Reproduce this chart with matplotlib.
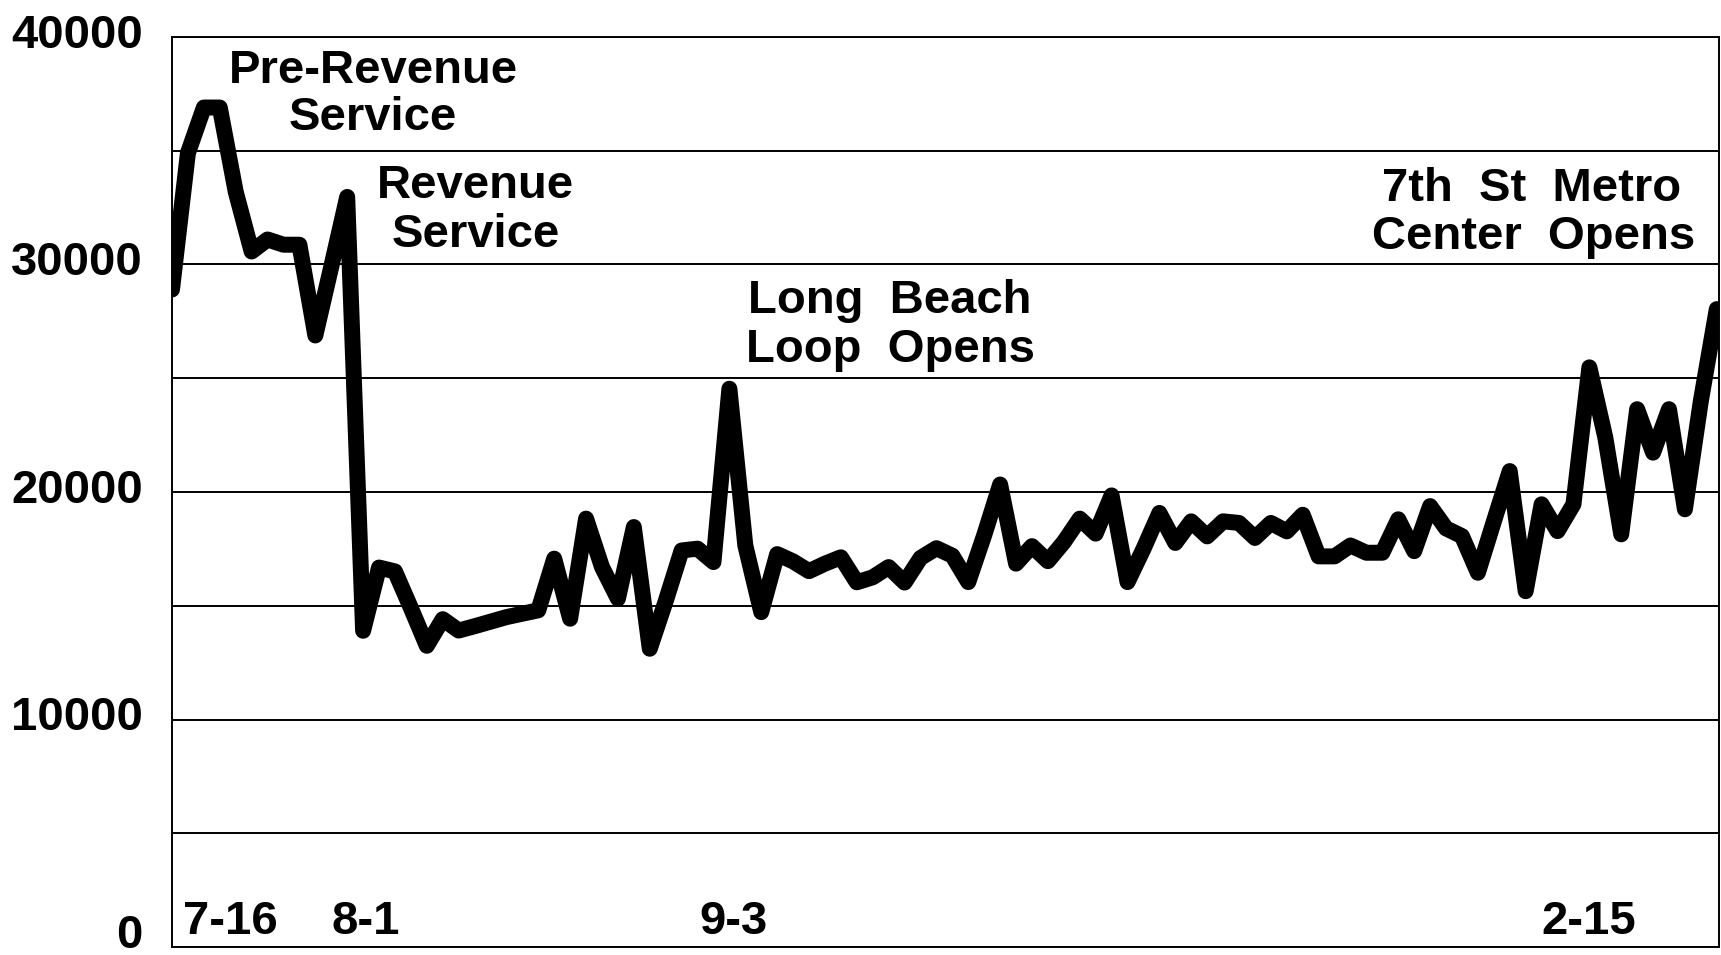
import matplotlib
matplotlib.use("Agg")
import matplotlib.pyplot as plt
from matplotlib.transforms import ScaledTranslation

# ---------------- data ----------------
ridership = [28900, 34900, 36900, 36900, 33200, 30570, 31100, 30870, 30870, 26880,
             29900, 32970, 13900, 16680, 16510, 14900, 13240, 14410, 13910, 14100,
             14300, 14500, 14650, 14800, 17070, 14430, 18830, 16700, 15310, 18460,
             13110, 15200, 17430, 17510, 16920, 24540, 17650, 14720, 17270, 16950,
             16520, 16850, 17130, 16030, 16250, 16700, 16020, 17100, 17530, 17200,
             16040, 18100, 20330, 16850, 17620, 16960, 17800, 18830, 18170, 19850,
             16040, 17500, 19080, 17760, 18710, 18050, 18710, 18640, 17980, 18640,
             18270, 19000, 17170, 17170, 17650, 17330, 17330, 18800, 17400, 19380,
             18400, 18060, 16450, 18700, 20920, 15640, 19460, 18280, 19460, 25480,
             22400, 18140, 23640, 21730, 23640, 19240, 24000, 28040]
y_major = [0, 10000, 20000, 30000, 40000]
y_major_labels = ["0", "10000", "20000", "30000", "40000"]
y_minor = [5000, 15000, 25000, 35000]
date_labels = ["7-16", "8-1", "9-3", "2-15"]
date_label_pos = [3.66, 12.14, 35.24, 88.97]
annotations = ["Pre-Revenue", "Service", "Revenue", "Service",
               "Long  Beach", "Loop  Opens", "7th  St  Metro", "Center  Opens"]
annotation_pos = [(12.62, 37990), (12.62, 35925), (19.08, 32936), (19.08, 30769),
                  (45.09, 27881), (45.09, 25697), (85.34, 32804), (85.53, 30664)]

# ---------------- figure ----------------
W, H = 1721, 955
fig = plt.figure(figsize=(W / 100, H / 100), dpi=100)
fig.patch.set_facecolor("white")
ax = fig.add_axes([172 / W, 8 / H, 1547 / W, 910 / H])

FONT = "Liberation Sans"
FS = 34

x = list(range(len(ridership)))
ax.plot(x, ridership, color="black", lw=11.5, solid_joinstyle="round",
        solid_capstyle="round", zorder=3)

ax.set_xlim(0, 97.14)
ax.set_ylim(0, 40000)

ax.set_yticks(y_major)
ax.set_yticklabels(y_major_labels, fontfamily=FONT, fontweight="bold", fontsize=FS)
ax.set_yticks(y_minor, minor=True)
ax.set_xticks([])
ax.tick_params(axis="y", which="both", length=0, pad=21)
ax.grid(axis="y", which="both", color="black", lw=1.4, zorder=1)
ax.set_axisbelow(True)

for lab in ax.get_yticklabels():
    shift = -1.0 if lab.get_text() == "0" else -10.7
    lab.set_verticalalignment("baseline")
    lab.set_transform(lab.get_transform() +
                      ScaledTranslation(0, shift / 100, fig.dpi_scale_trans))

for s in ax.spines.values():
    s.set_color("black")
    s.set_linewidth(1.4)

for txt, (tx, ty) in zip(annotations, annotation_pos):
    ax.text(tx, ty, txt, ha="center", va="baseline", fontfamily=FONT,
            fontweight="bold", fontsize=FS, zorder=4)

for txt, px in zip(date_labels, date_label_pos):
    ax.text(px, 558, txt, ha="center", va="baseline", fontfamily=FONT,
            fontweight="bold", fontsize=FS, zorder=4)

fig.savefig("out.png", dpi=100, facecolor="white")
